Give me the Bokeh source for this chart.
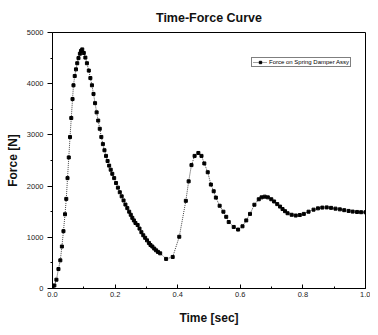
from bokeh.plotting import figure
from bokeh.embed import file_html
from bokeh.resources import INLINE
from bokeh.models import Range1d, FixedTicker, Legend, LegendItem, NumeralTickFormatter

time_s = [0.0, 0.006, 0.0125, 0.019, 0.025, 0.03, 0.035, 0.04, 0.044, 0.048, 0.052, 0.056, 0.06,
          0.064, 0.067, 0.071, 0.075, 0.079, 0.083, 0.0875, 0.091, 0.095, 0.1, 0.105, 0.11, 0.116,
          0.121, 0.126, 0.131, 0.136, 0.141, 0.146, 0.151, 0.156, 0.161, 0.166, 0.171, 0.176, 0.181,
          0.186, 0.191, 0.197, 0.203, 0.209, 0.215, 0.221, 0.227, 0.233, 0.239, 0.245, 0.25, 0.255,
          0.26, 0.265, 0.272, 0.278, 0.284, 0.29, 0.296, 0.302, 0.308, 0.313, 0.319, 0.325, 0.331,
          0.337, 0.344, 0.363, 0.384, 0.405, 0.426, 0.435, 0.444, 0.454, 0.466, 0.476, 0.485, 0.496,
          0.506, 0.515, 0.522, 0.534, 0.546, 0.555, 0.563, 0.579, 0.593, 0.607, 0.619, 0.631, 0.645,
          0.659, 0.668, 0.678, 0.688, 0.699, 0.708, 0.718, 0.727, 0.735, 0.743, 0.751, 0.764, 0.777,
          0.79, 0.803, 0.818, 0.834, 0.848, 0.862, 0.876, 0.89, 0.904, 0.918, 0.932, 0.946, 0.959,
          0.973, 0.986, 1.0]
force_n = [0, 60, 172, 380, 550, 820, 1120, 1450, 1750, 2156, 2560, 2958, 3330,
           3700, 3969, 4150, 4280, 4400, 4500, 4586, 4640, 4670, 4600, 4510, 4400, 4256,
           4110, 3969, 3800, 3620, 3440, 3280, 3120, 2960, 2820, 2700, 2590, 2490, 2400,
           2320, 2240, 2156, 2060, 1970, 1880, 1800, 1720, 1640, 1570, 1500, 1440, 1380,
           1330, 1280, 1240, 1170, 1100, 1040, 990, 940, 890, 850, 820, 780, 745,
           715, 687, 578, 616, 1011, 1712, 2093, 2410, 2590, 2647, 2590, 2443, 2271,
           2030, 1900, 1775, 1616, 1500, 1400, 1298, 1202, 1151, 1215, 1330, 1457, 1636,
           1743, 1780, 1794, 1780, 1743, 1700, 1648, 1600, 1552, 1510, 1470, 1440, 1425,
           1435, 1457, 1500, 1540, 1565, 1580, 1584, 1575, 1560, 1546, 1530, 1515, 1502,
           1495, 1490, 1489]
x_ticks = [0.0, 0.2, 0.4, 0.6, 0.8, 1.0]
y_ticks = [0, 1000, 2000, 3000, 4000, 5000]
series_name = "Force on Spring Damper Assy"

FONT = "Liberation Sans"

p = figure(width=370, height=327, output_backend="svg", toolbar_location=None,
           x_range=Range1d(0, 1.0), y_range=Range1d(0, 5000),
           title="Time-Force Curve",
           min_border_left=52, min_border_right=5, min_border_top=32, min_border_bottom=31)

p.title.align = "center"
p.title.vertical_align = "top"
p.title.text_font = FONT
p.title.text_font_size = "12.5px"
p.title.text_font_style = "bold"
p.title.text_color = "#111111"
p.title.standoff = 12

p.grid.visible = False
p.outline_line_color = "black"
p.outline_line_width = 1
p.background_fill_color = "white"
p.border_fill_color = "white"

xa = p.xaxis[0]
xa.ticker = FixedTicker(ticks=x_ticks, minor_ticks=[0.1, 0.3, 0.5, 0.7, 0.9])
xa.formatter = NumeralTickFormatter(format="0.0")
xa.axis_label = "Time [sec]"
ya = p.yaxis[0]
ya.ticker = FixedTicker(ticks=y_ticks, minor_ticks=[500, 1500, 2500, 3500, 4500])
ya.axis_label = "Force [N]"

for ax in (xa, ya):
    ax.axis_label_text_font = FONT
    ax.axis_label_text_font_style = "bold"
    ax.axis_label_text_font_size = "12px"
    ax.axis_label_text_color = "#111111"
    ax.major_label_text_font = FONT
    ax.major_label_text_font_size = "7.5px"
    ax.major_label_text_color = "#222222"
    ax.axis_line_color = "black"
    ax.major_tick_line_color = "black"
    ax.minor_tick_line_color = "black"

xa.major_tick_in = 4
xa.major_tick_out = 0
xa.minor_tick_in = 2
xa.minor_tick_out = 0
xa.major_label_standoff = 3
xa.axis_label_standoff = 11

ya.major_tick_in = 0
ya.major_tick_out = 5
ya.minor_tick_in = 0
ya.minor_tick_out = 2
ya.major_label_standoff = 4
ya.axis_label_standoff = 4

ln = p.line(time_s, force_n, line_color="#444444", line_width=1, line_dash="1 1")
sc = p.scatter(time_s, force_n, marker="square", size=3, fill_color="black", line_color="black")

legend = Legend(items=[LegendItem(label=series_name, renderers=[ln, sc])],
                location=(199, 221), orientation="vertical")
legend.label_text_font = FONT
legend.label_text_font_size = "6px"
legend.label_text_color = "black"
legend.glyph_width = 14
legend.glyph_height = 6
legend.label_height = 6
legend.label_standoff = 2
legend.padding = 1
legend.margin = 0
legend.spacing = 0
legend.border_line_color = "black"
legend.border_line_width = 1
legend.background_fill_alpha = 1
p.add_layout(legend, "center")

open("out.html", "w").write(file_html(p, INLINE))
